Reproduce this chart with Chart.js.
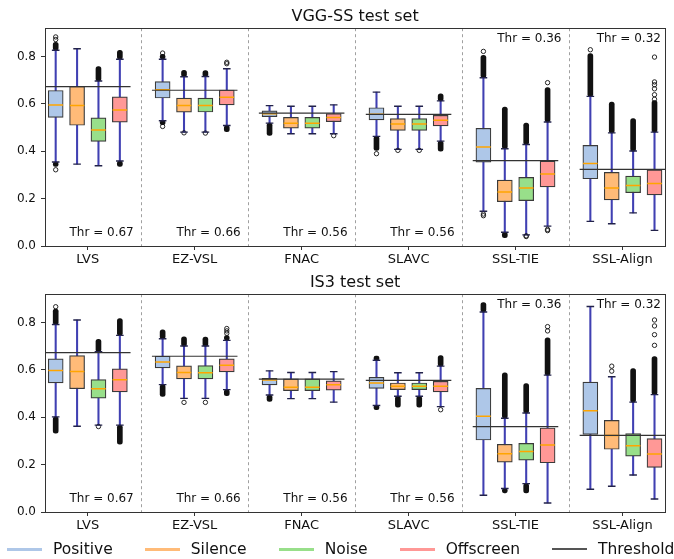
<!DOCTYPE html>
<html>
<head>
<meta charset="utf-8">
<script src="https://cdn.jsdelivr.net/npm/chart.js@4.4.0/dist/chart.umd.min.js"></script>
<style>
  body { margin: 0; width: 674px; height: 559px; background: #fff; position: relative; overflow: hidden; font-family: "DejaVu Sans", sans-serif; }
  canvas { position: absolute; left: 0; }
  #legend { position: absolute; left: 7px; top: 538px; height: 22px; display: flex; align-items: center; gap: 32px; font-size: 15.5px; color: #111; }
  #legend .item { display: flex; align-items: center; }
  #legend .swatch { width: 35px; margin-right: 11px; }
</style>
</head>
<body>
<canvas id="vgg" width="674" height="270" style="top:0"></canvas>
<canvas id="is3" width="674" height="270" style="top:266px"></canvas>
<div id="legend"></div>
<script>
var groups = ['LVS', 'EZ-VSL', 'FNAC', 'SLAVC', 'SSL-TIE', 'SSL-Align'];
var seriesNames = ['Positive', 'Silence', 'Noise', 'Offscreen'];
var seriesColors = ['#aec7e8', '#ffbb78', '#98df8a', '#ff9896'];
var seriesOffsets = [-0.3, -0.1, 0.1, 0.3];
var yTicks = [0, 0.2, 0.4, 0.6, 0.8];
var thresholds = [0.673, 0.658, 0.561, 0.556, 0.361, 0.324];
var thrTextTop = [false, false, false, false, true, true];

// VGG-SS: [whisker low, q1, median, q3, whisker high] per group
var vggPositive = [[0.355, 0.543, 0.596, 0.657, 0.827], [0.529, 0.625, 0.660, 0.694, 0.789], [0.519, 0.546, 0.559, 0.571, 0.593],
                   [0.463, 0.533, 0.556, 0.584, 0.650], [0.147, 0.354, 0.418, 0.497, 0.711], [0.104, 0.284, 0.349, 0.425, 0.632]];
var vggSilence = [[0.346, 0.510, 0.594, 0.674, 0.833], [0.481, 0.565, 0.594, 0.625, 0.715], [0.474, 0.498, 0.519, 0.543, 0.590],
                  [0.408, 0.488, 0.515, 0.538, 0.590], [0.058, 0.187, 0.228, 0.278, 0.411], [0.094, 0.195, 0.245, 0.311, 0.478]];
var vggNoise = [[0.339, 0.442, 0.490, 0.541, 0.697], [0.481, 0.566, 0.593, 0.625, 0.716], [0.474, 0.498, 0.519, 0.543, 0.590],
                [0.408, 0.488, 0.515, 0.538, 0.590], [0.047, 0.192, 0.245, 0.290, 0.429], [0.140, 0.225, 0.256, 0.295, 0.401]];
var vggOffscreen = [[0.359, 0.523, 0.575, 0.630, 0.789], [0.509, 0.596, 0.628, 0.659, 0.749], [0.474, 0.525, 0.543, 0.559, 0.596],
                    [0.443, 0.507, 0.531, 0.552, 0.613], [0.084, 0.250, 0.304, 0.359, 0.524], [0.066, 0.216, 0.264, 0.322, 0.481]];
// dense runs of outliers: [group, series, from, to]
var vggBands = [[0, 0, 0.827, 0.860], [0, 0, 0.336, 0.355], [0, 2, 0.697, 0.758], [0, 3, 0.789, 0.826], [0, 3, 0.336, 0.359],
                [1, 0, 0.789, 0.810], [1, 0, 0.512, 0.529], [1, 1, 0.715, 0.742], [1, 2, 0.716, 0.741], [1, 3, 0.483, 0.509],
                [2, 0, 0.467, 0.519], [3, 0, 0.404, 0.463], [3, 3, 0.613, 0.643], [3, 3, 0.401, 0.443],
                [4, 0, 0.711, 0.805], [4, 1, 0.411, 0.587], [4, 1, 0.035, 0.058], [4, 2, 0.429, 0.519], [4, 3, 0.524, 0.669],
                [5, 0, 0.632, 0.813], [5, 1, 0.478, 0.608], [5, 2, 0.401, 0.538], [5, 3, 0.481, 0.614]];
// single outliers: [group, series, value]
var vggPoints = [[0, 0, 0.872], [0, 0, 0.883], [0, 0, 0.322], [1, 0, 0.815], [1, 0, 0.505], [1, 1, 0.478], [1, 2, 0.477],
                 [1, 3, 0.770], [1, 3, 0.776], [2, 3, 0.466], [3, 0, 0.390], [3, 1, 0.404], [3, 2, 0.404],
                 [4, 0, 0.822], [4, 0, 0.135], [4, 0, 0.128], [4, 2, 0.043], [4, 2, 0.040], [4, 3, 0.690], [4, 3, 0.070], [4, 3, 0.065],
                 [5, 0, 0.829], [5, 3, 0.620], [5, 3, 0.639], [5, 3, 0.664], [5, 3, 0.681], [5, 3, 0.693], [5, 3, 0.798]];

// IS3
var is3Positive = [[0.402, 0.545, 0.598, 0.647, 0.792], [0.538, 0.609, 0.634, 0.658, 0.732], [0.494, 0.537, 0.558, 0.565, 0.596],
                   [0.450, 0.522, 0.545, 0.569, 0.641], [0.071, 0.304, 0.404, 0.522, 0.845], [0.096, 0.328, 0.428, 0.549, 0.868]];
var is3Silence = [[0.362, 0.521, 0.593, 0.661, 0.811], [0.480, 0.562, 0.589, 0.617, 0.701], [0.479, 0.513, 0.527, 0.562, 0.589],
                  [0.489, 0.517, 0.531, 0.545, 0.588], [0.099, 0.211, 0.246, 0.286, 0.396], [0.109, 0.265, 0.323, 0.387, 0.571]];
var is3Noise = [[0.367, 0.481, 0.521, 0.559, 0.677], [0.480, 0.562, 0.588, 0.618, 0.701], [0.479, 0.513, 0.527, 0.562, 0.589],
                [0.489, 0.517, 0.531, 0.545, 0.588], [0.120, 0.219, 0.256, 0.290, 0.418], [0.156, 0.236, 0.280, 0.331, 0.464]];
var is3Offscreen = [[0.367, 0.507, 0.559, 0.605, 0.746], [0.517, 0.592, 0.620, 0.647, 0.725], [0.464, 0.515, 0.538, 0.554, 0.593],
                    [0.445, 0.507, 0.531, 0.552, 0.616], [0.038, 0.208, 0.283, 0.355, 0.578], [0.055, 0.188, 0.245, 0.310, 0.496]];
var is3Bands = [[0, 0, 0.792, 0.857], [0, 0, 0.333, 0.402], [0, 2, 0.677, 0.729], [0, 3, 0.746, 0.817], [0, 3, 0.286, 0.367],
                [1, 0, 0.732, 0.769], [1, 0, 0.488, 0.538], [1, 1, 0.701, 0.740], [1, 2, 0.701, 0.739], [1, 3, 0.725, 0.745], [1, 3, 0.491, 0.517],
                [2, 0, 0.467, 0.494], [3, 0, 0.641, 0.659], [3, 0, 0.432, 0.450], [3, 1, 0.443, 0.489], [3, 2, 0.443, 0.489], [3, 3, 0.616, 0.661],
                [4, 0, 0.845, 0.885], [4, 1, 0.396, 0.588], [4, 1, 0.081, 0.099], [4, 2, 0.418, 0.542], [4, 2, 0.081, 0.120], [4, 3, 0.578, 0.736],
                [5, 2, 0.464, 0.606], [5, 3, 0.496, 0.656]];
var is3Points = [[0, 0, 0.867], [0, 2, 0.361], [1, 1, 0.463], [1, 2, 0.463], [1, 3, 0.755], [1, 3, 0.765], [1, 3, 0.775],
                 [3, 3, 0.432], [4, 3, 0.765], [4, 3, 0.783], [5, 1, 0.595], [5, 1, 0.616],
                 [5, 3, 0.704], [5, 3, 0.749], [5, 3, 0.786], [5, 3, 0.811]];

Chart.defaults.font.family = '"DejaVu Sans", sans-serif';
Chart.defaults.color = '#111';

var boxPos = function(g, s) {
  return g + 1 + seriesOffsets[s];
};

var decorPlugin = {
  id: 'decor',
  beforeDatasetsDraw: function(chart) {
    var ctx = chart.ctx, a = chart.chartArea, x = chart.scales.x;
    ctx.save();
    ctx.strokeStyle = '#a0a0a0';
    ctx.lineWidth = 1;
    ctx.setLineDash([3, 3]);
    for (var i = 1; i < groups.length; i++) {
      var px = Math.round(x.getPixelForValue(i + 0.5)) + 0.5;
      ctx.beginPath();
      ctx.moveTo(px, a.top);
      ctx.lineTo(px, a.bottom);
      ctx.stroke();
    }
    ctx.restore();
  },
  afterDatasetsDraw: function(chart) {
    var ctx = chart.ctx, a = chart.chartArea, x = chart.scales.x, y = chart.scales.y;
    ctx.save();
    ctx.font = '12px "DejaVu Sans"';
    ctx.fillStyle = '#111';
    ctx.textAlign = 'right';
    ctx.textBaseline = 'middle';
    for (var i = 0; i < groups.length; i++) {
      var tx = x.getPixelForValue(Math.min(i + 1.43, 6.36));
      var ty = y.getPixelForValue(thrTextTop[i] ? 0.876 : 0.055);
      ctx.fillText('Thr = ' + thresholds[i].toFixed(2), tx, ty);
    }
    ctx.strokeStyle = '#333';
    ctx.lineWidth = 1;
    ctx.strokeRect(Math.round(a.left) + 0.5, Math.round(a.top) + 0.5, Math.round(a.right - a.left), Math.round(a.bottom - a.top));
    ctx.restore();
  }
};

var make_chart = function(id, title, stats, bands, points) {
  var whiskers = [], caps = [], medians = [], bandData = [], pointData = [];
  var datasets = [];

  for (var s = 0; s < stats.length; s++) {
    var boxes = [];
    for (var g = 0; g < groups.length; g++) {
      var st = stats[s][g];
      var px = boxPos(g, s);
      whiskers.push({x: px, y: [st[0], st[4]]});
      caps.push({x: px, y: st[0]});
      caps.push({x: px, y: st[4]});
      medians.push({x: px, y: st[2]});
      boxes.push({x: px, y: [st[1], st[3]]});
    }
    datasets.push({
      label: seriesNames[s],
      data: boxes,
      backgroundColor: seriesColors[s],
      borderColor: '#3a3a3a',
      borderWidth: 1.2,
      borderSkipped: false,
      barThickness: 15,
      grouped: false,
      order: 3
    });
  }
  for (var i = 0; i < bands.length; i++) {
    bandData.push({x: boxPos(bands[i][0], bands[i][1]), y: [bands[i][2], bands[i][3]]});
  }
  for (var j = 0; j < points.length; j++) {
    pointData.push({x: boxPos(points[j][0], points[j][1]), y: points[j][2]});
  }

  datasets.push({
    label: 'whiskers', data: whiskers, backgroundColor: 'rgba(30,30,165,0.85)',
    barThickness: 1.4, grouped: false, order: 6
  });
  datasets.push({
    label: 'dense outliers', data: bandData, backgroundColor: '#111',
    barThickness: 5, borderRadius: 2.5, borderSkipped: false, grouped: false, order: 5
  });
  datasets.push({
    type: 'scatter', label: 'outliers', data: pointData,
    pointRadius: 2.2, pointBorderWidth: 0.9, pointBorderColor: '#111', pointBackgroundColor: 'rgba(255,255,255,0)', order: 5
  });
  datasets.push({
    type: 'scatter', label: 'caps', data: caps, pointStyle: 'line',
    pointRadius: 3.8, pointBorderWidth: 1.4, pointBorderColor: '#22224a', order: 4
  });
  datasets.push({
    type: 'scatter', label: 'medians', data: medians, pointStyle: 'line',
    pointRadius: 7.3, pointBorderWidth: 1.5, pointBorderColor: '#ffa500', order: 2
  });
  for (var t = 0; t < groups.length; t++) {
    datasets.push({
      type: 'line', label: 'Threshold',
      data: [{x: t + 0.6, y: thresholds[t]}, {x: t + 1.4, y: thresholds[t]}],
      borderColor: '#333', borderWidth: 1.2, pointRadius: 0, order: 1
    });
  }

  return new Chart(document.getElementById(id), {
    type: 'bar',
    data: {datasets: datasets},
    options: {
      responsive: false,
      animation: false,
      events: [],
      layout: {padding: {right: 7}},
      plugins: {
        legend: {display: false},
        tooltip: {enabled: false},
        title: {
          display: true, text: title, fullSize: false,
          font: {size: 16, weight: 'normal'}, color: '#111',
          padding: {top: 7, bottom: 2}
        }
      },
      scales: {
        x: {
          type: 'linear', min: 0.6, max: 6.4, offset: false,
          afterBuildTicks: function(scale) {
            scale.ticks = groups.map(function(n, k) { return {value: k + 1}; });
          },
          afterFit: function(scale) { scale.height = 24; },
          ticks: {
            autoSkip: false, maxRotation: 0, padding: 2,
            font: {size: 13},
            callback: function(value, index) { return groups[index]; }
          },
          grid: {drawOnChartArea: false, drawTicks: true, tickLength: 4, color: '#333', offset: false},
          border: {display: false}
        },
        y: {
          min: 0, max: 0.92,
          afterBuildTicks: function(scale) {
            scale.ticks = yTicks.map(function(v) { return {value: v}; });
          },
          afterFit: function(scale) { scale.width = 45; },
          ticks: {
            padding: 5, font: {size: 12},
            callback: function(value) { return value.toFixed(1); }
          },
          grid: {drawOnChartArea: false, drawTicks: true, tickLength: 4, color: '#333'},
          border: {display: false}
        }
      }
    },
    plugins: [decorPlugin]
  });
};

make_chart('vgg', 'VGG-SS test set', [vggPositive, vggSilence, vggNoise, vggOffscreen], vggBands, vggPoints);
make_chart('is3', 'IS3 test set', [is3Positive, is3Silence, is3Noise, is3Offscreen], is3Bands, is3Points);

// legend
var legend = document.getElementById('legend');
var items = seriesNames.map(function(n, k) { return {label: n, color: seriesColors[k], h: 3}; });
items.push({label: 'Threshold', color: '#555', h: 1.5});
items.forEach(function(it) {
  var el = document.createElement('div');
  el.className = 'item';
  el.innerHTML = '<span class="swatch" style="height:' + it.h + 'px;background:' + it.color + '"></span><span>' + it.label + '</span>';
  legend.appendChild(el);
});
</script>
</body>
</html>
